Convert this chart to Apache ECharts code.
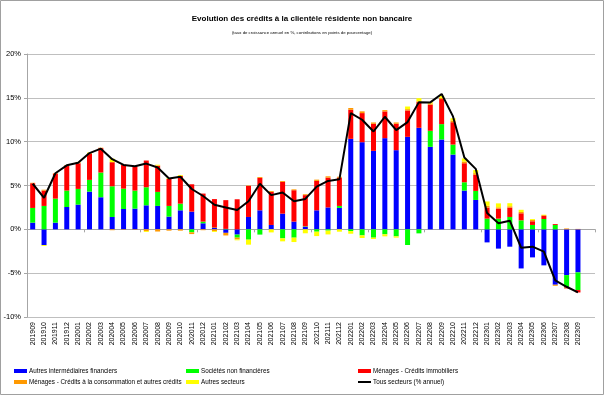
<!DOCTYPE html>
<html>
<head>
<meta charset="utf-8">
<script src="https://cdn.jsdelivr.net/npm/echarts@6/dist/echarts.min.js"></script>
<style>
html,body{margin:0;padding:0;background:#fff;}
#c{width:604px;height:395px;}
</style>
</head>
<body>
<div id="c"></div>
<script>
var categories = ['201909','201910','201911','201912','202001','202002','202003','202004','202005','202006','202007','202008','202009','202010','202011','202012','202101','202102','202103','202104','202105','202106','202107','202108','202109','202110','202111','202112','202201','202202','202203','202204','202205','202206','202207','202208','202209','202210','202211','202212','202301','202302','202303','202304','202305','202306','202307','202308','202309',''];

var autresIF = [0.76,-1.8,0.76,2.55,2.82,4.3,3.66,1.41,2.32,2.36,2.74,2.67,1.45,2.17,2.02,0.69,0.15,-0.4,-0.6,1.41,2.17,0.5,1.79,0.88,0.3,2.17,2.5,2.44,10.32,9.94,8.95,10.4,9.03,10.55,11.58,9.41,10.25,8.53,4.42,3.35,-1.49,-2.2,-1.98,-4.46,-3.2,-4.11,-6.32,-5.22,-4.91];
var snf = [1.68,2.67,2.74,1.87,1.79,1.34,2.82,3.5,2.32,2.06,2.06,1.6,1.22,0.76,-0.34,0.19,0.05,0.05,-0.35,-1.18,-0.6,0,-1.03,-0.95,0.05,-0.27,-0.15,0.23,-0.2,-0.69,-0.95,-0.57,-0.8,-1.79,-0.46,1.83,1.75,1.14,0.95,1.03,1.22,1.22,1.41,1.03,0.5,1.18,0.5,-1.41,-2.02];
var immo = [2.82,1.75,2.86,2.86,2.93,2.97,2.78,2.75,2.74,2.78,3.05,3.0,3.08,3.17,3.12,3.2,3.25,3.28,3.43,3.54,3.7,3.77,3.62,3.58,3.55,3.35,3.4,3.23,3.32,3.32,3.09,3.05,3.01,3.01,2.93,2.97,2.86,2.55,2.17,1.83,1.26,1.14,1.07,0.8,0.42,0.34,0.1,-0.11,-0.27];
var conso = [0.05,0.1,0.05,0.05,0.1,0.1,0.05,-0.1,-0.05,-0.05,-0.2,-0.25,-0.15,-0.15,-0.2,-0.1,-0.2,-0.3,-0.2,0.05,0.1,0.1,0.1,0.1,0.1,0.15,0.15,0.1,0.2,0.2,0.15,0.15,0.15,0.15,0.1,0.15,0.15,0.2,0.2,0.2,0.2,0.15,0.15,0.15,0.15,0.1,-0.12,0.1,0.05];
var autresSect = [0,-0.1,0,0,0.05,0.05,0,0.4,0,0,-0.1,0.1,0.1,0.1,0,0,-0.1,0,-0.1,-0.57,0,-0.35,-0.34,-0.5,-0.45,-0.5,-0.43,-0.27,-0.3,-0.3,-0.15,-0.23,-0.15,0.3,0.35,0.15,0.23,0.25,0.35,0.35,0.5,0.45,0.35,0.25,0.1,0.05,0,0,0];
var total = [5.2,3.6,6.4,7.3,7.6,8.7,9.2,8.0,7.35,7.2,7.5,7.05,5.8,6.0,4.6,3.8,2.8,2.5,2.2,3.2,5.2,3.9,4.2,3.2,3.47,4.88,5.52,5.7,13.26,12.5,11.16,12.84,11.31,12.23,14.51,14.48,15.43,12.88,8.19,6.9,1.87,0.69,0.99,-2.1,-1.98,-2.55,-5.83,-6.55,-7.2];

var yTicks = {min:-10, max:20, interval:5};

var names = ['Autres intermédiaires financiers','Sociétés non financières','Ménages - Crédits immobiliers','Ménages - Crédits à la consommation et autres crédits','Autres secteurs','Tous secteurs (% annuel)'];
var colors = ['#0000ff','#00ff00','#ff0000','#ff9900','#ffff00','#000000'];
var values = [autresIF, snf, immo, conso, autresSect];

var FF = 'Liberation Sans, sans-serif';

var series = values.map(function(v,i){
  return {name:names[i], type:'bar', stack:'a', data:v, barWidth:5,
    itemStyle:{color:colors[i]}, animation:false};
});
series.push({name:names[5], type:'line', data:total, symbol:'none',
  lineStyle:{color:'#000',width:2}, itemStyle:{color:'#000'}, z:10, animation:false});

var legPos = [[14,368],[186,368],[358,368],[14,379],[186,379],[358,379]];
var legends = names.map(function(n,i){
  return {data:[{name:n, icon:'rect'}], left:legPos[i][0], top:legPos[i][1],
    itemWidth:13, itemHeight:(i===5?2:4), itemGap:2, padding:0,
    textStyle:{fontSize:6.3, color:'#000', fontFamily:FF, padding:[0,0,0,-3]}, selectedMode:false};
});

var chart = echarts.init(document.getElementById('c'), null, {renderer:'canvas'});
chart.setOption({
  animation:false,
  title:[
    {text:'Evolution des crédits à la clientèle résidente non bancaire', left:'center', top:10,
     textStyle:{fontSize:8, fontWeight:'bold', color:'#000', fontFamily:FF}},
    {text:'(taux de croissance annuel en %, contributions en points de pourcentage)', left:'center', top:26,
     textStyle:{fontSize:4.3, fontWeight:'normal', color:'#000', fontFamily:FF}}
  ],
  legend:legends,
  grid:{left:27, right:9, top:54, bottom:78, containLabel:false},
  xAxis:[
    {type:'category', data:categories, axisLine:{onZero:true, lineStyle:{color:'#a6a6a6'}},
     axisTick:{show:true, length:3, lineStyle:{color:'#a6a6a6'}}, axisLabel:{show:false}, splitLine:{show:false}},
    {type:'category', data:categories, position:'bottom', axisLine:{show:false, onZero:false},
     axisTick:{show:false}, axisLabel:{rotate:90, interval:0, fontSize:7, color:'#000', fontFamily:FF, margin:5}}
  ],
  yAxis:{type:'value', min:yTicks.min, max:yTicks.max, interval:yTicks.interval,
    axisLine:{show:true, lineStyle:{color:'#a6a6a6'}}, axisTick:{show:true, length:3, lineStyle:{color:'#a6a6a6'}},
    axisLabel:{formatter:'{value}%', fontSize:7.5, color:'#000', fontFamily:FF, margin:6},
    splitLine:{lineStyle:{color:'#bfbfbf', width:1}}},
  graphic:[{type:'rect', shape:{x:0.5,y:0.5,width:603,height:394}, style:{fill:'none', stroke:'#a0a0a0', lineWidth:1}, silent:true}],
  series:series
});
</script>
</body>
</html>
